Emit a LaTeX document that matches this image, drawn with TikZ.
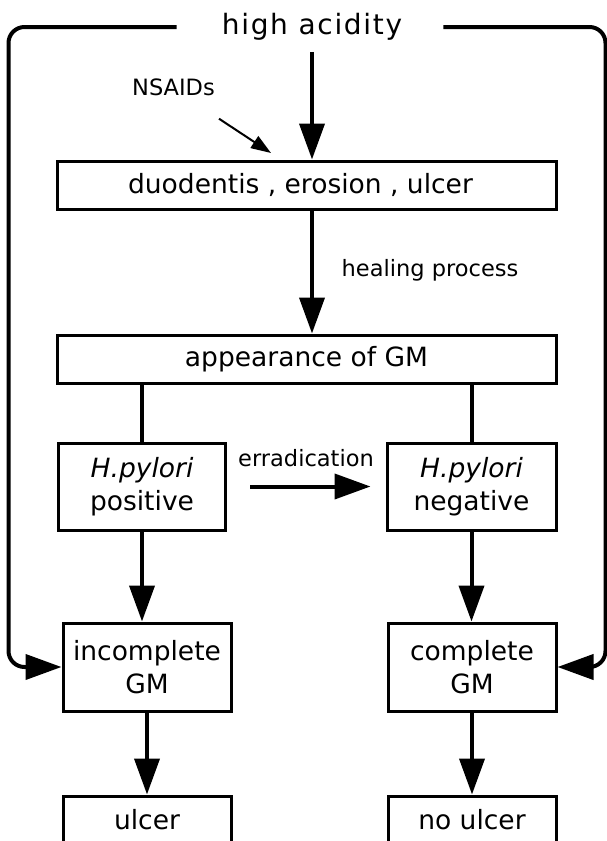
\documentclass[tikz,border=0pt]{standalone}
\usepackage{fontspec}
\setmainfont{DejaVu Sans}
\newfontfamily\hifont[LetterSpace=6]{DejaVu Sans}
\usetikzlibrary{arrows.meta}
\begin{document}
\begin{tikzpicture}[x=1pt,y=-1pt,
  box/.style={draw, line width=3pt, inner sep=0pt, align=center, font=\fontsize{26.5}{33}\selectfont},
  lbl/.style={inner sep=0pt, font=\fontsize{22.5}{27}\selectfont},
  conn/.style={line width=4pt},
  arr/.style={line width=4pt, -{Triangle[length=36pt,width=25pt]}},
  thinarr/.style={line width=2pt, -{Triangle[length=20pt,width=14pt]}}]
\useasboundingbox (0,0) rectangle (607,841);
\clip (0,0) rectangle (607,841);

\node[inner sep=0pt, font=\hifont\fontsize{28}{34}\selectfont] (hi) at (312,27) {high acidity};
\node[box, minimum width=499pt, minimum height=48pt] (duod) at (306.5,185) {duodentis , erosion , ulcer\hspace*{12pt}};
\node[box, minimum width=499pt, minimum height=48pt] (app) at (306.5,359) {appearance of GM};
\node[box, minimum width=167pt, minimum height=87pt] (pos) at (142,486.5) {\textit{H.pylori}\\positive};
\node[box, minimum width=169pt, minimum height=87pt] (neg) at (471.5,486.5) {\textit{H.pylori}\\negative};
\node[box, minimum width=168pt, minimum height=88pt] (inc) at (147,667) {incomplete\\GM};
\node[box, minimum width=168pt, minimum height=88pt] (comp) at (472,667) {complete\\GM};
\node[box, minimum width=168pt, minimum height=48pt] (ulc) at (147,820) {ulcer};
\node[box, minimum width=168pt, minimum height=48pt] (noulc) at (472,820) {no ulcer};

\node[lbl] (nsaid) at (173.5,87) {NSAIDs};
\node[lbl] (heal) at (430,270) {healing process};
\node[lbl] (erad) at (306,458) {erradication};

% feedback loops from high acidity
\draw[arr, rounded corners=16pt] ([xshift=-45pt]hi.west) -| ([xshift=-53pt]inc.west) -- (inc.west);
\draw[arr, rounded corners=16pt] ([xshift=41pt]hi.east) -| ([xshift=48pt]comp.east) -- (comp.east);

\draw[arr, shorten <=11pt] (hi.south) -- (hi.south |- duod.north);
\draw[arr] (duod.south -| hi.south) -- (hi.south |- app.north);
\draw[conn] (app.south -| pos.north) -- (pos.north);
\draw[conn] (app.south -| neg.north) -- (neg.north);
\draw[arr] (pos.south) -- (pos.south |- inc.north);
\draw[arr] (neg.south) -- (neg.south |- comp.north);
\draw[arr] (inc.south) -- (ulc.north);
\draw[arr] (comp.south) -- (noulc.north);
\draw[arr, shorten <=23pt, shorten >=15pt] (pos.east) -- (neg.west);

\coordinate (nstip) at (271,153);
\draw[thinarr] ([shift={(4,23)}]nsaid.south east) -- (nstip);
\end{tikzpicture}
\end{document}
